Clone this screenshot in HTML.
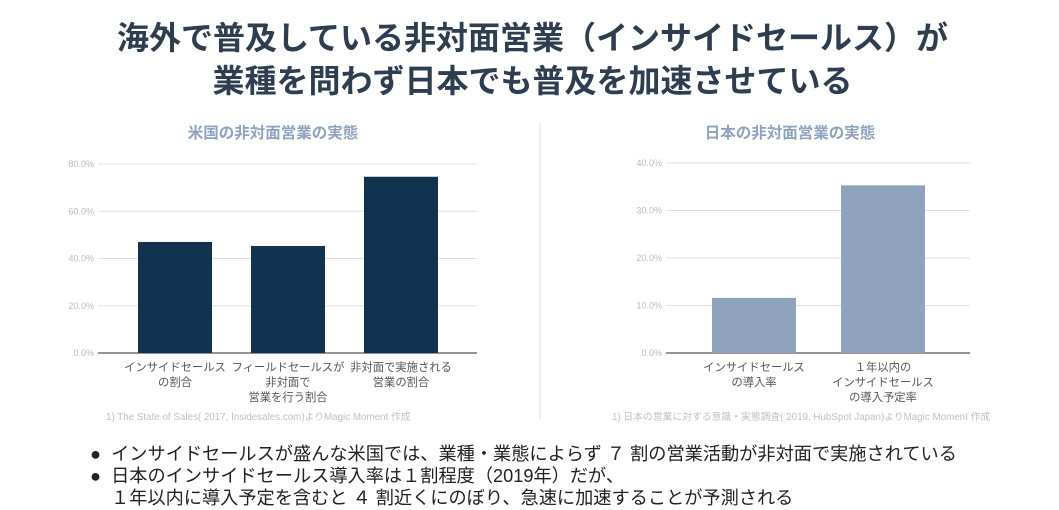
<!DOCTYPE html>
<html><head><meta charset="utf-8"><style>
body{margin:0;width:1059px;height:510px;background:#fff;overflow:hidden;font-family:"Liberation Sans","Noto Sans CJK JP",sans-serif;position:relative}
.t{position:absolute;left:0;width:1059px;text-align:center;font-weight:bold;font-size:32px;color:#2e3d4f;white-space:nowrap}
.b{position:absolute;left:90px;font-size:18.2px;color:#222;white-space:nowrap}
</style></head><body>
<div class="t" style="top:13px;left:3px">海外で普及している非対面営業（インサイドセールス）が</div>
<div class="t" style="top:56px;left:3px">業種を問わず日本でも普及を加速させている</div>
<svg id="c" width="1059" height="510" style="position:absolute;left:0;top:0"></svg>
<div class="b" style="top:440px">●&nbsp; インサイドセールスが盛んな米国では、業種・業態によらず ７ 割の営業活動が非対面で実施されている</div>
<div class="b" style="top:462px">●&nbsp; 日本のインサイドセールス導入率は１割程度（2019年）だが、</div>
<div class="b" style="top:484px;left:111px">１年以内に導入予定を含むと ４ 割近くにのぼり、急速に加速することが予測される</div>
<script>
const usCategories=[["インサイドセールス","の割合"],["フィールドセールスが","非対面で","営業を行う割合"],["非対面で実施される","営業の割合"]];
const usValues=[47,45.3,74.6];
const usTicks=[0,20,40,60,80];
const jpCategories=[["インサイドセールス","の導入率"],["１年以内の","インサイドセールス","の導入予定率"]];
const jpValues=[11.6,35.3];
const jpTicks=[0,10,20,30,40];
const svg=document.getElementById('c');
const NS='http://www.w3.org/2000/svg';
function mk(tag,attrs,txt){const e=document.createElementNS(NS,tag);for(const k in attrs)e.setAttribute(k,attrs[k]);if(txt!==undefined)e.textContent=txt;svg.appendChild(e);return e;}
function chart(o){
  const y=v=>o.y0-(v/o.max)*(o.y0-o.yTop);
  let e=mk('text',{x:o.cx,y:138,'text-anchor':'middle','font-size':15.5,'font-weight':'bold',fill:'#8fa3bf'},o.title);
  
  
  o.ticks.forEach(t=>{
    let g=mk('line',{x1:o.x0,x2:o.x1,y1:y(t),y2:y(t),stroke:t===0?'#555':'#e0e0e0','stroke-width':t===0?1.2:1});
    
    
    let l=mk('text',{x:o.x0-4,y:y(t)+3,'text-anchor':'end','font-size':9,fill:'#bbb'},t.toFixed(1)+'%');
    
    
  });
  o.values.forEach((v,i)=>{
    const bx=o.barX0+i*o.step;
    let r=mk('rect',{x:bx,y:y(v),width:o.bw,height:o.y0-y(v),fill:o.color});
    
    
    o.cats[i].forEach((ln,j)=>{
      let c=mk('text',{x:bx+o.bw/2,y:o.y0+18+j*15,'text-anchor':'middle','font-size':11.3,fill:'#555'},ln);
      
      
    });
  });
  let s=mk('text',{x:o.srcX,y:420,'font-size':9.8,fill:'#c0c0c0'},o.src);
  
  
}
chart({id:'us',title:'米国の非対面営業の実態',cx:273,x0:98,x1:477,y0:353,yTop:164,max:80,ticks:usTicks,values:usValues,cats:usCategories,barX0:138,step:113,bw:74,color:'#12334f',src:'1) The State of Sales( 2017, Insidesales.com)よりMagic Moment 作成',srcX:106});
chart({id:'jp',title:'日本の非対面営業の実態',cx:790,x0:666,x1:970,y0:353,yTop:163,max:40,ticks:jpTicks,values:jpValues,cats:jpCategories,barX0:712,step:129,bw:84,color:'#8fa3bd',src:'1) 日本の営業に対する意識・実態調査( 2019, HubSpot Japan)よりMagic Moment 作成',srcX:612});
let d=mk('line',{x1:540,x2:540,y1:122,y2:420,stroke:'#ddd','stroke-width':1});


</script>
</body></html>
